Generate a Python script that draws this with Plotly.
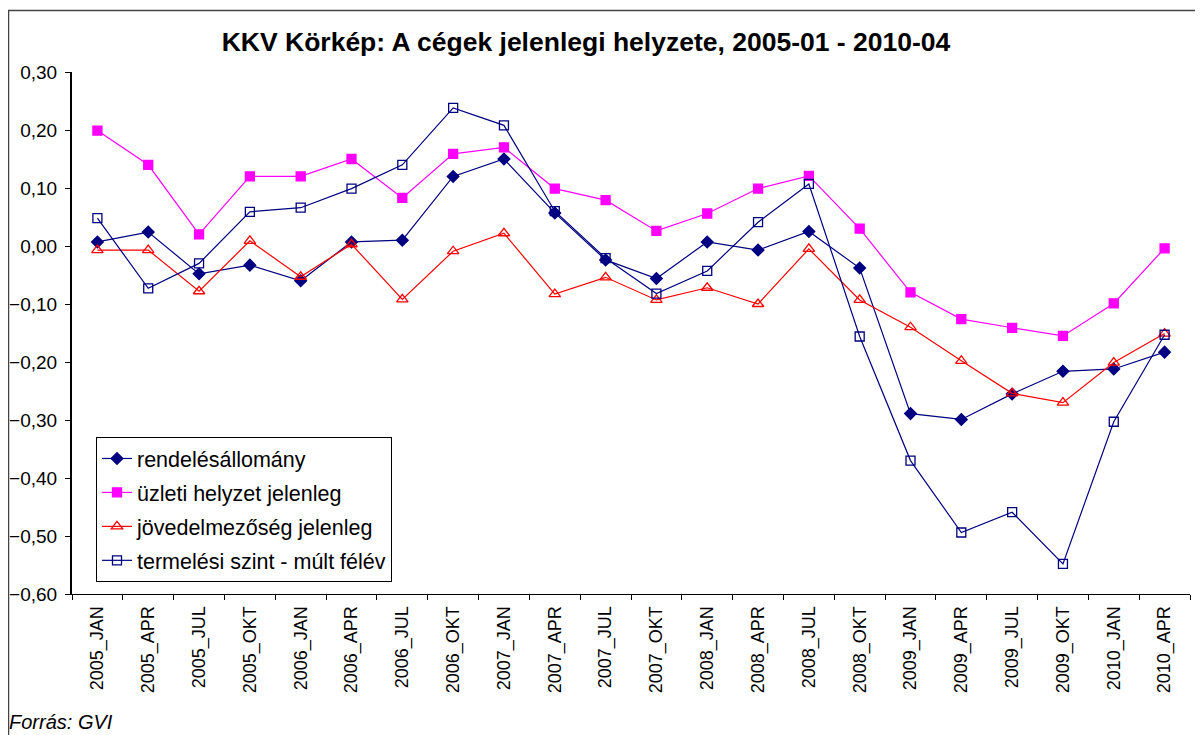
import plotly.graph_objects as go

categories = ["2005_JAN", "2005_APR", "2005_JUL", "2005_OKT", "2006_JAN", "2006_APR",
              "2006_JUL", "2006_OKT", "2007_JAN", "2007_APR", "2007_JUL", "2007_OKT",
              "2008_JAN", "2008_APR", "2008_JUL", "2008_OKT", "2009_JAN", "2009_APR",
              "2009_JUL", "2009_OKT", "2010_JAN", "2010_APR"]

rendeles = [0.007, 0.024, -0.048, -0.033, -0.060, 0.007, 0.010, 0.120, 0.150, 0.057, -0.024,
            -0.056, 0.007, -0.007, 0.025, -0.038, -0.289, -0.299, -0.255, -0.216, -0.212, -0.183]
uzleti = [0.199, 0.140, 0.020, 0.120, 0.120, 0.150, 0.083, 0.159, 0.170, 0.099, 0.079,
          0.026, 0.056, 0.099, 0.121, 0.030, -0.080, -0.126, -0.141, -0.155, -0.099, -0.004]
jovedelmezoseg = [-0.007, -0.007, -0.078, 0.009, -0.053, 0.003, -0.092, -0.009, 0.022, -0.083, -0.054,
                  -0.093, -0.072, -0.100, -0.005, -0.093, -0.140, -0.198, -0.254, -0.270, -0.201, -0.151]
termelesi = [0.048, -0.073, -0.030, 0.059, 0.066, 0.099, 0.140, 0.238, 0.208, 0.060, -0.021,
             -0.082, -0.043, 0.041, 0.107, -0.156, -0.370, -0.494, -0.459, -0.548, -0.303, -0.153]

series_names = ["rendelésállomány", "üzleti helyzet jelenleg",
                "jövedelmezőség jelenleg", "termelési szint - múlt félév"]

W, H = 1203, 735
OFF = 8  # page body margin
L, R, T, B = 72 - OFF, 1190 - OFF, 72 - OFF, 594 - OFF  # plot area in figure pixels

fig = go.Figure()

styles = [
    (rendeles, "#000080", "diamond", 9),
    (uzleti, "#FF00FF", "square", 9),
    (jovedelmezoseg, "#FF0000", "triangle-up-open", 10),
    (termelesi, "#000080", "square-open", 9),
]

for i, (vals, col, sym, sz) in enumerate(styles):
    fig.add_trace(go.Scatter(
        x=categories, y=vals, name=series_names[i], mode="lines+markers",
        legendgroup=f"g{i}",
        line=dict(color=col, width=1.2),
        marker=dict(symbol=sym, size=sz, color=col, line=dict(color=col, width=1.3)),
    ))

def px_x(px):
    return (px - OFF - L) / (R - L)

def px_y(py):
    return (B - (py - OFF)) / (B - T)

fig.update_layout(
    width=W, height=H,
    margin=dict(l=L, r=W - R, t=T, b=H - B, autoexpand=False),
    paper_bgcolor="white", plot_bgcolor="white",
    separators=", ",
    font=dict(family="Liberation Sans, Arial, sans-serif", size=18, color="black"),
    title=dict(text="<b>KKV Körkép: A cégek jelenlegi helyzete, 2005-01 - 2010-04</b>",
               x=(586 - OFF) / W, xanchor="center", xref="container",
               y=1 - (42 - OFF) / H, yanchor="middle", yref="container",
               font=dict(size=26.5, color="black")),
    xaxis=dict(
        type="category", tickson="boundaries", ticks="outside", ticklen=5,
        tickcolor="black", showline=True, linecolor="black", linewidth=1,
        showgrid=False, tickangle=-90, tickfont=dict(size=18),
        range=[-0.5, len(categories) - 0.5], ticklabelstandoff=4,
        automargin=False,
    ),
    yaxis=dict(
        range=[-0.6, 0.3], dtick=0.1, tick0=0, tickformat=".2f",
        ticks="outside", ticklen=5, tickcolor="black",
        showline=True, linecolor="black", linewidth=2,
        showgrid=False, zeroline=False, tickfont=dict(size=19),
        ticklabelstandoff=4, automargin=False,
    ),
    legend=dict(
        x=px_x(96), y=px_y(437), xanchor="left", yanchor="top",
        bgcolor="white", bordercolor="black", borderwidth=1,
        font=dict(size=21.5), traceorder="grouped", tracegroupgap=3,
        itemwidth=30,
    ),
    showlegend=True,
)

fig.add_shape(type="rect", xref="paper", yref="paper",
              x0=px_x(8.5), x1=px_x(1225), y0=px_y(760), y1=px_y(10.5),
              line=dict(color="#444444", width=1.5), fillcolor="rgba(0,0,0,0)", layer="below")

fig.add_annotation(text="<i>Forrás: GVI</i>", xref="paper", yref="paper",
                   x=px_x(10), y=px_y(722), xanchor="left", yanchor="middle",
                   xshift=-3, showarrow=False, font=dict(size=20, color="black"))

fig.write_html("out.html")
